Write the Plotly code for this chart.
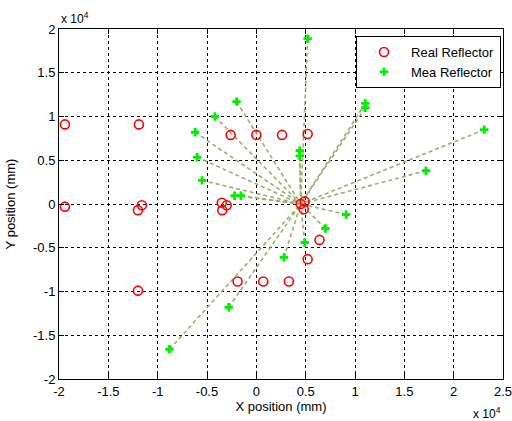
import plotly.graph_objects as go

# Real reflector positions (mm)
real_x = [-19400, -11900, -19400, -11600, -12000, -12000, -2600, 0, 2600, 5200,
          -3500, -3000, -3450, 4500, 4900, 4800, 6400, 5200, -1900, 700, 3300]
real_y = [9100, 9100, -300, -150, -700, -9900, 7900, 7900, 7900, 8000,
          150, -150, -700, 0, 300, -600, -4100, -6300, -8850, -8850, -8850]

# Measured reflector positions (mm)
mea_x = [-6200, -6000, -5500, 5200, -2000, -4200, 4400, 4400, -2200, -1550,
         11050, 11050, 23100, 17200, 9100, 7000, 4900, 2800, -2800, -8800]
mea_y = [8200, 5350, 2700, 18900, 11700, 10000, 6100, 5500, 950, 950,
         11500, 11000, 8500, 3800, -1200, -2800, -4400, -6100, -11800, -16600]

# Common origin of the dashed rays
origin_x = 4500
origin_y = 0

x_ticks = [-20000, -15000, -10000, -5000, 0, 5000, 10000, 15000, 20000, 25000]
x_tick_text = ["-2", "-1.5", "-1", "-0.5", "0", "0.5", "1", "1.5", "2", "2.5"]
y_ticks = [-20000, -15000, -10000, -5000, 0, 5000, 10000, 15000, 20000]
y_tick_text = ["-2", "-1.5", "-1", "-0.5", "0", "0.5", "1", "1.5", "2"]

line_x, line_y = [], []
for mx, my in zip(mea_x, mea_y):
    line_x += [mx, origin_x, None]
    line_y += [my, origin_y, None]

fig = go.Figure()
fig.add_trace(go.Scatter(x=line_x, y=line_y, mode="lines",
                         line=dict(color="rgb(155,175,110)", width=1.6, dash="4px,3px"),
                         showlegend=False, hoverinfo="skip"))
fig.add_trace(go.Scatter(x=real_x, y=real_y, mode="markers", name="Real Reflector",
                         marker=dict(symbol="circle-open", color="red", size=9,
                                     line=dict(color="red", width=1.6))))
fig.add_trace(go.Scatter(x=mea_x, y=mea_y, mode="markers", name="Mea Reflector",
                         marker=dict(symbol="cross", color="#00ee00", size=7,
                                     line=dict(width=0))))

font = dict(family="Liberation Sans, Arial, sans-serif", size=13, color="black")
axis_common = dict(showline=True, linecolor="black", linewidth=1, mirror="ticks",
                   ticks="inside", ticklen=5, tickcolor="black",
                   showgrid=True, gridcolor="black", gridwidth=1, griddash="3px,3px",
                   zeroline=False, tickfont=font, automargin=False,
                   ticklabeloverflow="allow")

fig.update_layout(
    width=512, height=421,
    margin=dict(l=59, r=9, t=29, b=42),
    paper_bgcolor="white", plot_bgcolor="white",
    font=font,
    xaxis=dict(range=[-20000, 25000], tickvals=x_ticks, ticktext=x_tick_text,
               title=dict(text="X position (mm)", font=font, standoff=3), **axis_common),
    yaxis=dict(range=[-20000, 20000], tickvals=y_ticks, ticktext=y_tick_text,
               title=dict(text="Y position (mm)", font=font, standoff=14), **axis_common),
    legend=dict(x=0.669, y=0.98, xanchor="left", yanchor="top",
                bgcolor="white", bordercolor="black", borderwidth=1,
                font=font, tracegroupgap=0, itemwidth=44),
    showlegend=True,
    annotations=[
        dict(text="x 10<sup>4</sup>", x=0, y=1, xref="paper", yref="paper",
             xanchor="left", yanchor="bottom", showarrow=False,
             font=dict(family=font["family"], size=12, color="black"), yshift=1),
        dict(text="x 10<sup>4</sup>", x=1, y=0, xref="paper", yref="paper",
             xanchor="right", yanchor="top", showarrow=False,
             font=dict(family=font["family"], size=12, color="black"), yshift=-24),
    ],
)

fig.write_html("out.html", config={"displayModeBar": False})

# remove the browser's default body margin so the figure sits at the page origin
with open("out.html", "r", encoding="utf-8") as f:
    html = f.read()
html = html.replace("<body>", '<body style="margin:0;padding:0;">', 1)
with open("out.html", "w", encoding="utf-8") as f:
    f.write(html)
